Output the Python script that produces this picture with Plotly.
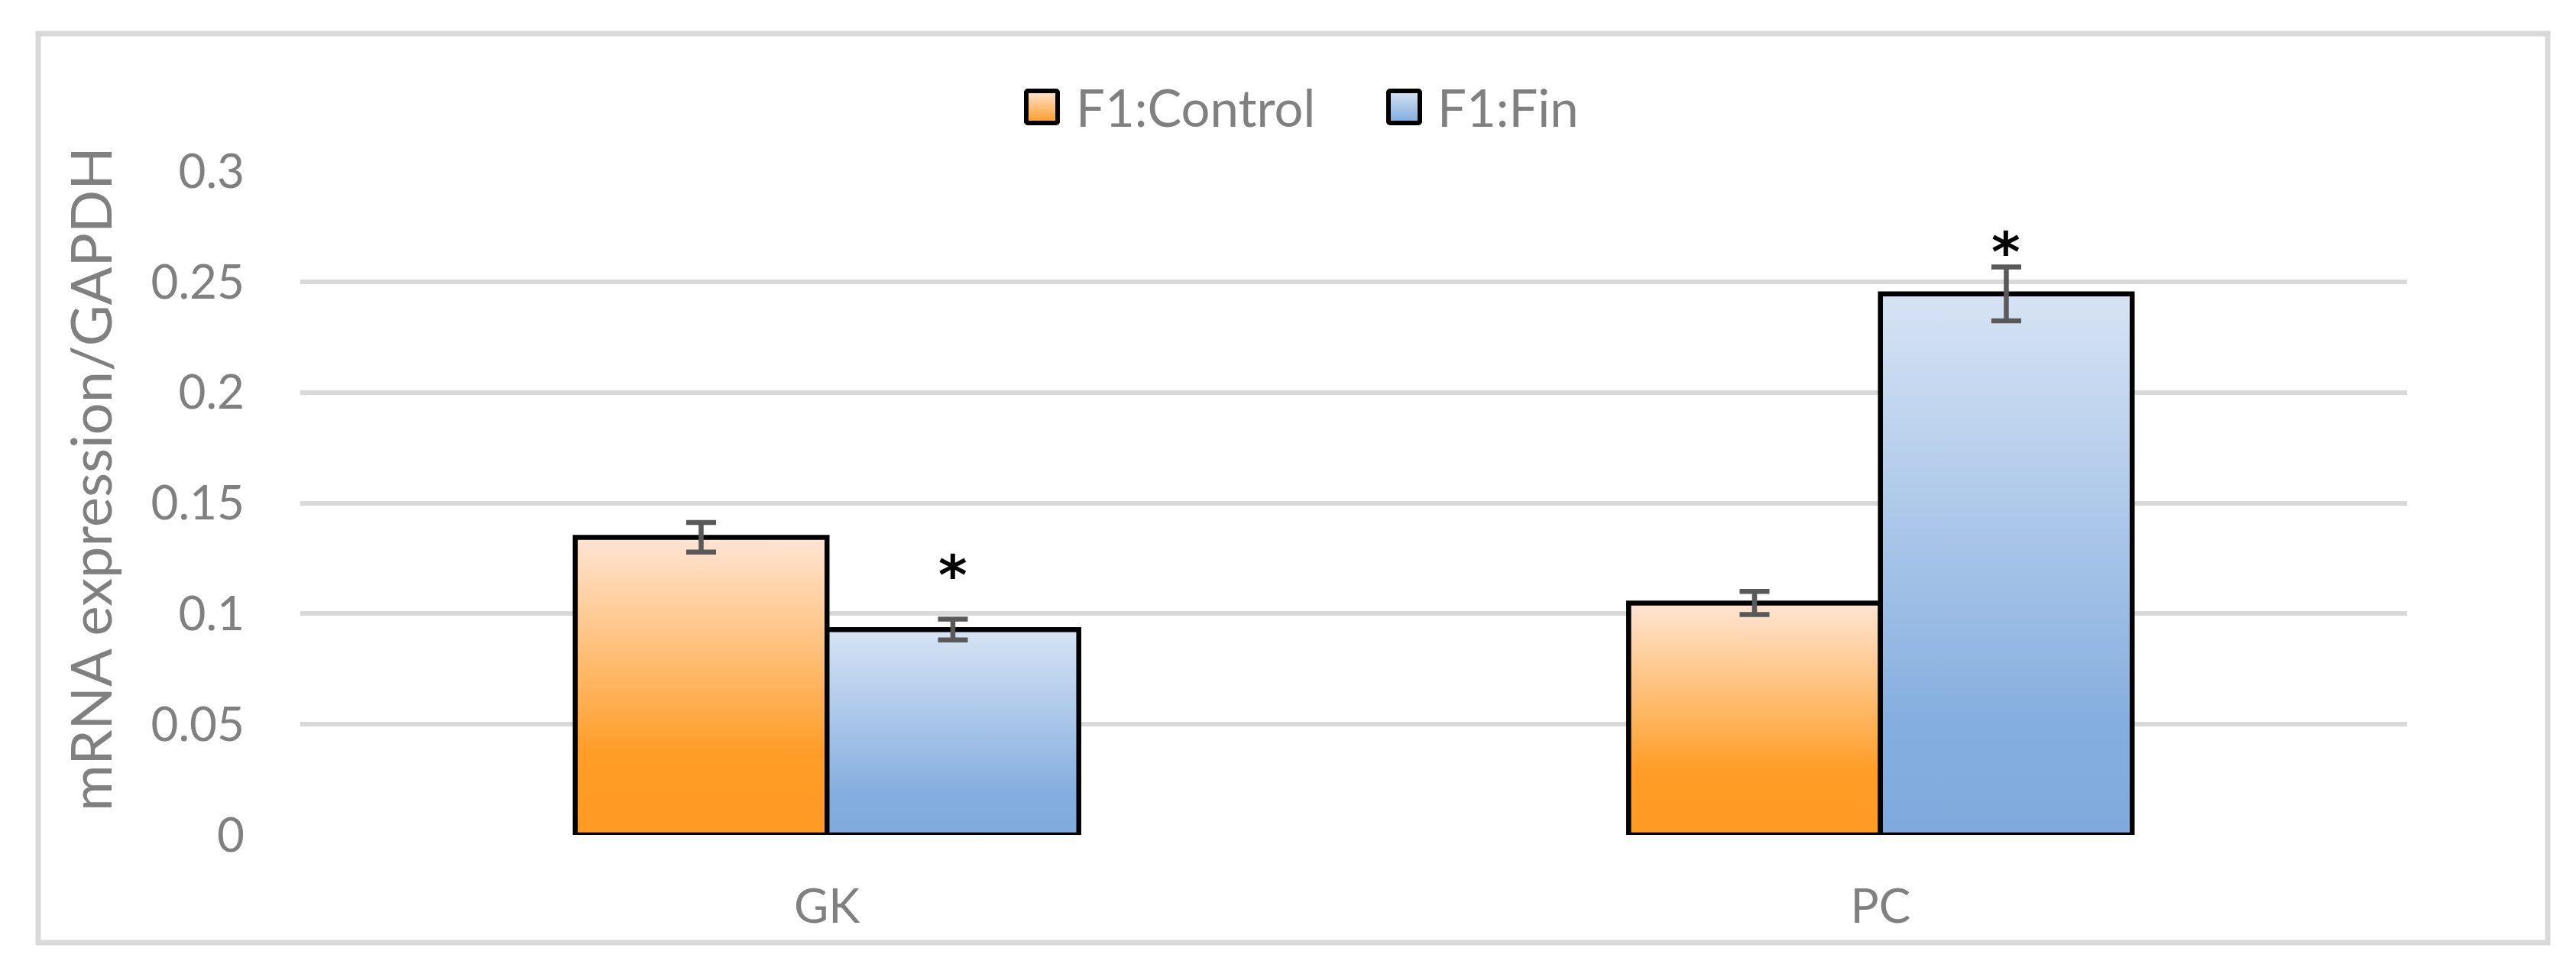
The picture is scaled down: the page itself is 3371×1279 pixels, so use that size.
import base64
import plotly.graph_objects as go

# ---------------- data ----------------
categories = ["GK", "PC"]
series_names = ["F1:Control", "F1:Fin"]
control_values = [0.1345, 0.1048]
control_errors = [0.0067, 0.0052]
fin_values = [0.0928, 0.2445]
fin_errors = [0.0047, 0.0122]
fin_significance = ["*", "*"]
sig_y = [0.1217, 0.268]
y_ticks = [0, 0.05, 0.1, 0.15, 0.2, 0.25, 0.3]
y_title = "mRNA expression/GAPDH"

# ---------------- style ----------------
OFF = 8  # default page body margin
PAGE_W, PAGE_H = 3371, 1279
W, H = PAGE_W - 2 * OFF, PAGE_H - 2 * OFF
PLOT_L, PLOT_R, PLOT_T, PLOT_B = 393, 3150, 224, 1093  # page pixel positions
L, T = PLOT_L - OFF, PLOT_T - OFF
R = W - (PLOT_R - OFF)
B = H - (PLOT_B - OFF)
PW, PH = PLOT_R - PLOT_L, PLOT_B - PLOT_T
FONT = "Lato, 'Open Sans', sans-serif"
GREY_TXT = "#808080"
GRID = "#D9D9D9"
BAR_W = 0.239
orange_scale = [[0, "#FF9A22"], [0.28, "#FF9D28"], [1, "#FFE5D4"]]
blue_scale = [[0, "#80AADD"], [0.2, "#84AEDF"], [1, "#D7E3F4"]]
series_values = [control_values, fin_values]
series_errors = [control_errors, fin_errors]
series_scales = [orange_scale, blue_scale]


def px_x(p):
    return (p - PLOT_L) / PW


def px_y(p):
    return (PLOT_B - p) / PH


fig = go.Figure()

# bars as gradient-filled polygons, one per bar
for j, (vals, scale) in enumerate(zip(series_values, series_scales)):
    for i, v in enumerate(vals):
        x0 = i - BAR_W + j * BAR_W
        x1 = x0 + BAR_W
        fig.add_trace(go.Scatter(
            x=[x0, x0, x1, x1, x0], y=[0, v, v, 0, 0],
            mode="lines", fill="toself",
            fillgradient=dict(type="vertical", colorscale=scale, start=0, stop=v),
            line=dict(color="black", width=6.5),
            hoverinfo="skip", showlegend=False,
        ))

# error bars
for j, (vals, errs) in enumerate(zip(series_values, series_errors)):
    xs = [i - BAR_W / 2 + j * BAR_W for i in range(len(vals))]
    fig.add_trace(go.Scatter(
        x=xs, y=vals, mode="markers",
        marker=dict(size=1, opacity=0),
        error_y=dict(type="data", array=errs, color="#595959", thickness=6.5, width=19.5),
        showlegend=False, hoverinfo="skip",
    ))

# significance asterisks
for i, s in enumerate(fin_significance):
    if s:
        fig.add_annotation(x=i + BAR_W / 2, y=sig_y[i], text="<b>" + s + "</b>", showarrow=False,
                           font=dict(family="DejaVu Sans", size=72, color="black"),
                           yanchor="middle", yshift=-13)


# legend drawn manually (gradient swatches)
def swatch(top, bottom):
    svg = (
        '<svg xmlns="http://www.w3.org/2000/svg" width="47" height="48" viewBox="0 0 47 48">'
        '<defs><linearGradient id="g" x1="0" y1="0" x2="0" y2="1">'
        f'<stop offset="0" stop-color="{top}"/><stop offset="1" stop-color="{bottom}"/>'
        '</linearGradient></defs>'
        '<rect x="3" y="3" width="41" height="42" rx="2" fill="url(#g)" stroke="black" stroke-width="6"/>'
        '</svg>'
    )
    return "data:image/svg+xml;base64," + base64.b64encode(svg.encode()).decode()


legend_pos = [(1340, 1406), (1814, 1879)]
for (sx, tx), name, scale in zip(legend_pos, series_names, series_scales):
    fig.add_layout_image(dict(
        source=swatch(scale[-1][1], scale[0][1]), xref="paper", yref="paper",
        x=px_x(sx), y=px_y(116), sizex=47 / PW, sizey=48 / PH,
        xanchor="left", yanchor="top", sizing="stretch", layer="above",
    ))
    fig.add_annotation(x=px_x(tx), y=px_y(140), xref="paper", yref="paper",
                       text=name, showarrow=False, xanchor="left", yanchor="middle",
                       font=dict(family=FONT, size=67, color=GREY_TXT))

# y-axis title
fig.add_annotation(x=px_x(117), y=px_y(627), xref="paper", yref="paper",
                   text=y_title, textangle=-90, showarrow=False,
                   xanchor="center", yanchor="middle",
                   font=dict(family=FONT, size=74, color=GREY_TXT))

# chart-area border
fig.add_shape(type="rect", xref="paper", yref="paper",
              x0=px_x(50), x1=px_x(3334), y0=px_y(1234), y1=px_y(44),
              line=dict(color=GRID, width=7), fillcolor="rgba(0,0,0,0)", layer="below")

fig.update_layout(
    width=W, height=H, autosize=False,
    margin=dict(l=L, r=R, t=T, b=B, pad=0),
    paper_bgcolor="white", plot_bgcolor="white",
    showlegend=False,
    font=dict(family=FONT, color=GREY_TXT),
    xaxis=dict(range=[-0.5, len(categories) - 0.5], tickvals=list(range(len(categories))),
               ticktext=categories, showgrid=False, zeroline=False, showline=False,
               ticks="", tickfont=dict(family=FONT, size=62, color=GREY_TXT),
               ticklabelstandoff=52, fixedrange=True),
    yaxis=dict(range=[0, 0.3], tickvals=y_ticks, showgrid=True, gridcolor=GRID, gridwidth=6,
               zeroline=False, showline=False, ticks="",
               tickfont=dict(family=FONT, size=62, color=GREY_TXT),
               ticklabelstandoff=72, fixedrange=True),
)

fig.write_html("out.html")
